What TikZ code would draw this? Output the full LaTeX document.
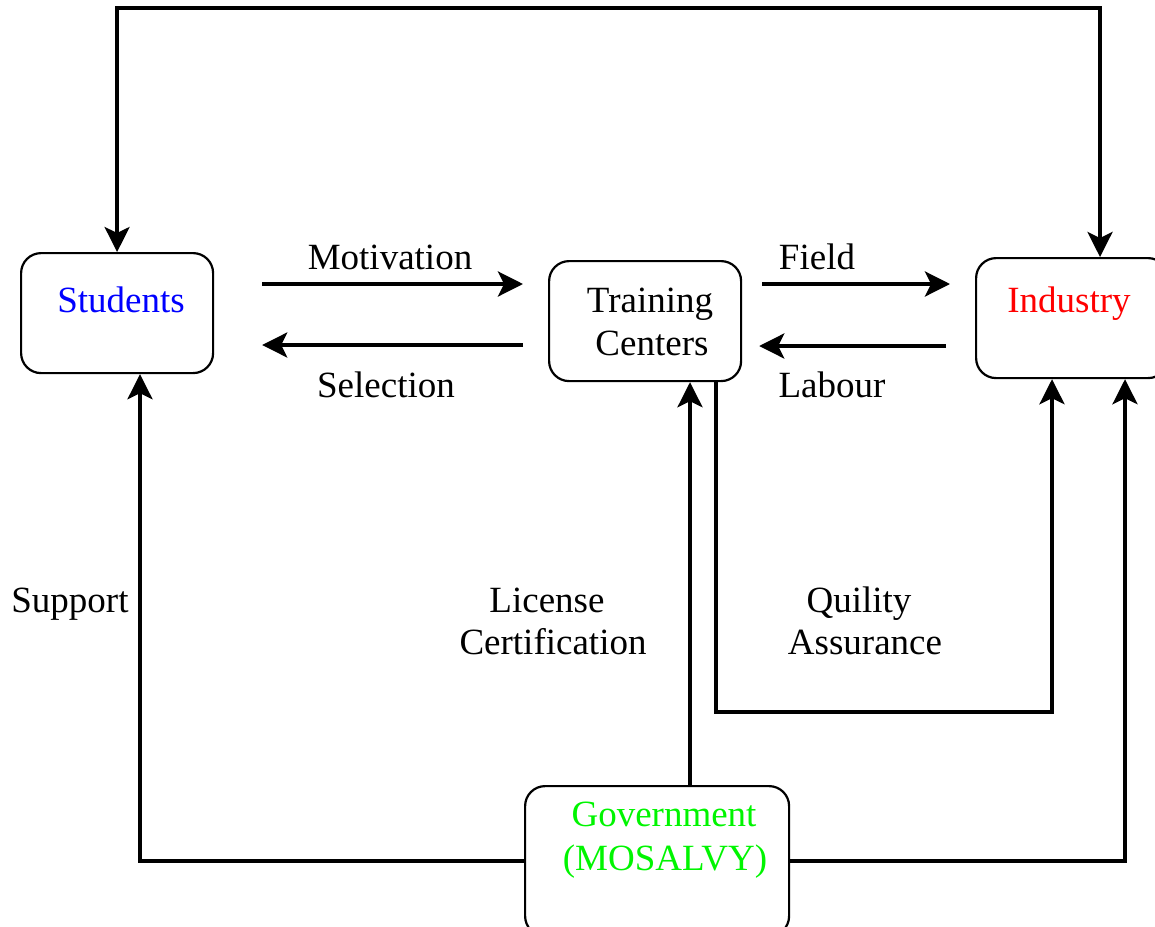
\documentclass[tikz,border=0pt]{standalone}
\usepackage{fontspec}
\setmainfont{Liberation Serif}
\usetikzlibrary{arrows.meta}
\begin{document}
\begin{tikzpicture}[x=1pt,y=-1pt,
  box/.style={draw=black, line width=2.2pt, rounded corners=20pt, rectangle, anchor=north west, inner sep=0pt},
  txt/.style={anchor=base, inner sep=0pt, font=\fontsize{37}{43}\selectfont},
  conn/.style={line width=3.6pt, draw=black},
  tip/.tip={Stealth[length=25pt, width=25pt, inset=6pt]},
  arr/.style={conn, -tip},
  arrb/.style={conn, tip-tip}]
\useasboundingbox (0,0) rectangle (1155,926);
% boxes
\node[box, minimum width=192pt, minimum height=120pt] (stu) at (20,252) {};
\node[box, minimum width=192pt, minimum height=120pt] (tc) at (548,260) {};
\node[box, minimum width=192pt, minimum height=120pt] (ind) at (975,257) {};
\node[box, minimum width=264pt, minimum height=150pt] (gov) at (524,785) {};
% box texts
\node[txt, text=blue] (tstu) at (121,312) {Students};
\node[txt] (ttc1) at (650,312) {Training};
\node[txt] (ttc2) at (652,355) {Centers};
\node[txt, text=red] (tind) at (1069,312) {Industry};
\node[txt, text={rgb,255:red,0;green,245;blue,0}] (tgov1) at (664,826) {Government};
\node[txt, text={rgb,255:red,0;green,245;blue,0}] (tgov2) at (665,870) {(MOSALVY)};
% labels
\node[txt] (lmot) at (390,269) {Motivation};
\node[txt] (lsel) at (386,397) {Selection};
\node[txt] (lfld) at (817,269) {Field};
\node[txt] (llab) at (832,397) {Labour};
\node[txt] (lsup) at (70,612) {Support};
\node[txt] (llic1) at (547,612) {License};
\node[txt] (llic2) at (553,654) {Certification};
\node[txt] (lqa1) at (859,612) {Quility};
\node[txt] (lqa2) at (865,654) {Assurance};
% connectors
\draw[arrb] (stu.north) -- (stu.north |- 0,8) -| (ind.north -| 1100,0);
\draw[arr, shorten <=48pt, shorten >=25pt] (stu.east |- 0,284) -- (tc.west |- 0,284);
\draw[arr, shorten <=25pt, shorten >=48pt] (tc.west |- 0,345) -- (stu.east |- 0,345);
\draw[arr, shorten <=20pt, shorten >=25pt] (tc.east |- 0,284) -- (ind.west |- 0,284);
\draw[arr, shorten <=29pt, shorten >=17pt] (ind.west |- 0,346) -- (tc.east |- 0,346);
\draw[arr] (gov.west) -| (stu.south -| 140,0);
\draw[arr] (gov.east) -| (ind.south -| 1125,0);
\draw[arr] (gov.north -| 690,0) -- (tc.south -| 690,0);
\coordinate (qa) at (1052,712);
\draw[arr] (tc.south -| 716,0) |- (qa) -- (ind.south -| qa);
\end{tikzpicture}
\end{document}
